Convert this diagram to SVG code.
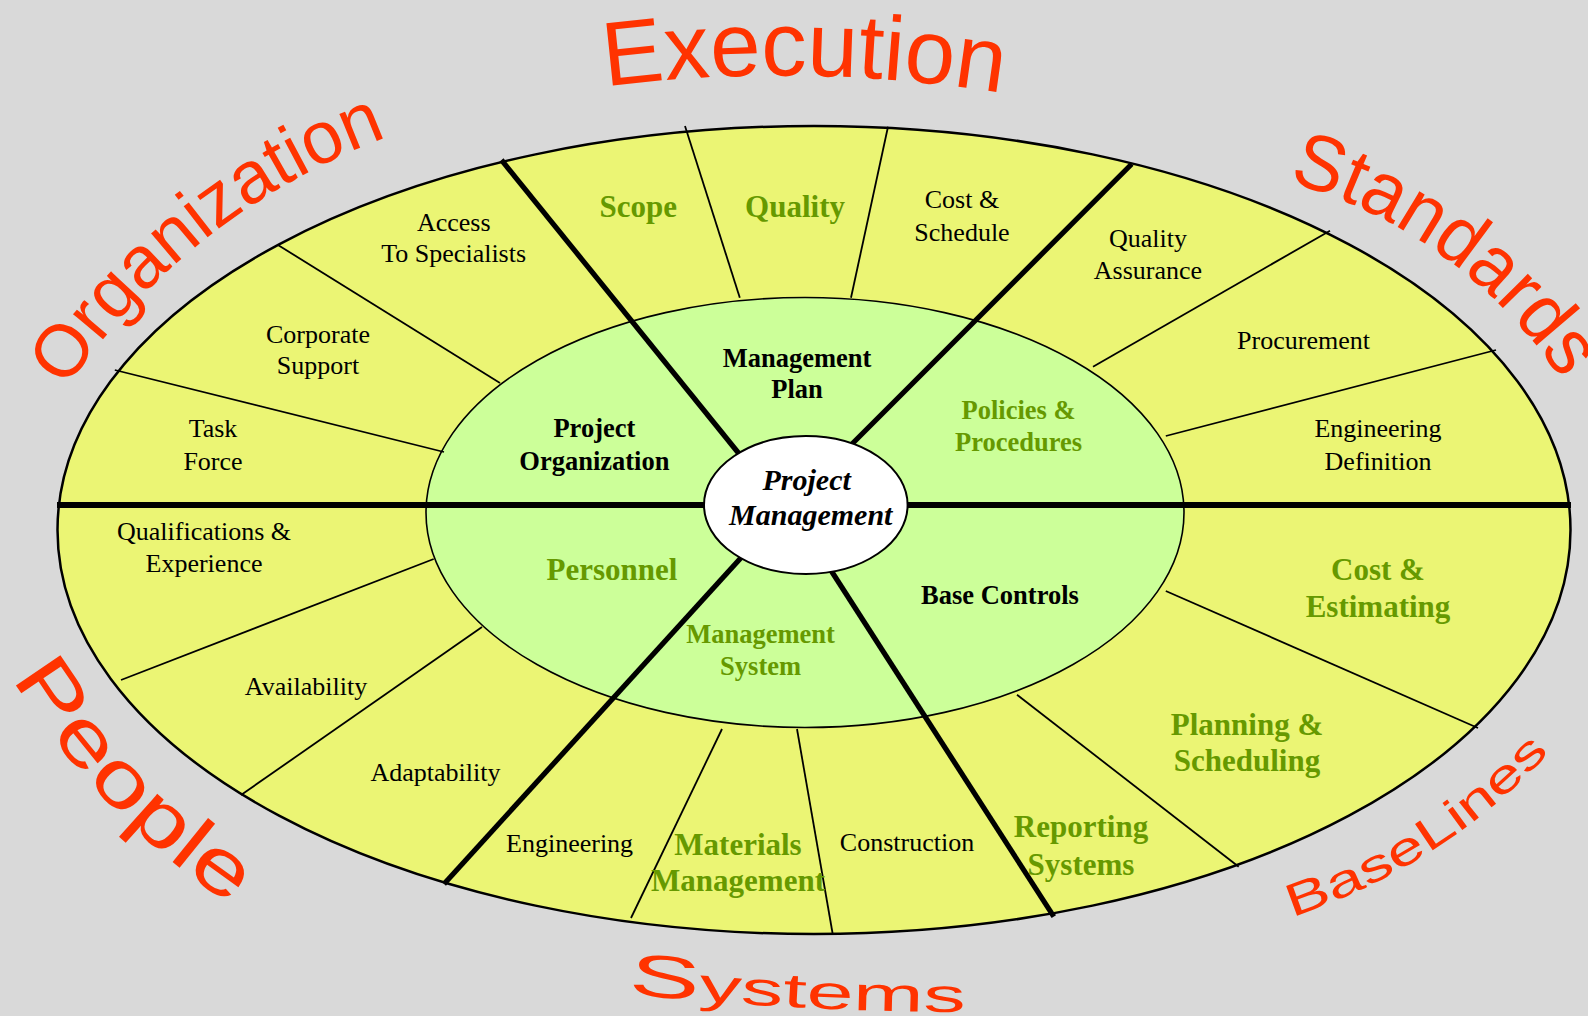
<svg xmlns="http://www.w3.org/2000/svg" width="1588" height="1016" viewBox="0 0 1588 1016">
<style>
.bg{fill:#d9d9d9}
.ring{fill:#ebf574;stroke:#000;stroke-width:2.5}
.inner{fill:#ccff99;stroke:#000;stroke-width:1.6}
.core{fill:#fff;stroke:#000;stroke-width:2}
.thin{stroke:#000;stroke-width:1.8;fill:none}
.thick{stroke:#000;stroke-width:5.2;fill:none}
.t{font-family:"Liberation Serif","Times New Roman",serif;font-size:26px;fill:#000;text-anchor:middle}
.g{font-family:"Liberation Serif","Times New Roman",serif;font-size:31px;font-weight:bold;fill:#669900;text-anchor:middle}
.gi{font-family:"Liberation Serif","Times New Roman",serif;font-size:26.5px;font-weight:bold;fill:#669900;text-anchor:middle}
.b{font-family:"Liberation Serif","Times New Roman",serif;font-size:26.5px;font-weight:bold;fill:#000;text-anchor:middle}
.c{font-family:"Liberation Serif","Times New Roman",serif;font-size:30px;font-weight:bold;font-style:italic;fill:#000;text-anchor:middle}
.red{font-family:"Liberation Sans",Arial,sans-serif;fill:#ff3300}
</style>
<defs>
<path id="pExec" d="M 605.6 86.5 A 1400 1400 0 0 1 1002.7 93.2"/>
<path id="pOrg" d="M 65.8 388.9 A 670 670 0 0 1 387.9 136.8"/>
<path id="pStd" d="M 1288 182 A 480 480 0 0 1 1560 378"/>
<path id="pPeo" d="M 12 678 A 728 728 0 0 0 231 905"/>
<path id="pSys" d="M 628 994 Q 800 1012 966 1012"/>
<path id="pBas" d="M 1292 917 A 611 611 0 0 0 1550 752"/>
</defs>
<rect class="bg" x="0" y="0" width="1588" height="1016"/>
<g id="outer-ring"><ellipse class="ring" cx="814" cy="530" rx="756.5" ry="404"/></g>
<g id="inner-ring"><ellipse class="inner" cx="805" cy="512.5" rx="379" ry="215"/></g>
<g id="connectors">
<line class="thin" x1="114.8" y1="370" x2="444" y2="452"/>
<line class="thin" x1="278" y1="245" x2="500" y2="383"/>
<line class="thin" x1="685" y1="126" x2="739.8" y2="297.7"/>
<line class="thin" x1="888" y1="126.7" x2="851" y2="297.7"/>
<line class="thin" x1="1330" y1="230.7" x2="1093" y2="366.7"/>
<line class="thin" x1="1496" y1="350" x2="1165.8" y2="436"/>
<line class="thin" x1="1165.8" y1="591" x2="1478" y2="728"/>
<line class="thin" x1="1017" y1="694.7" x2="1238.7" y2="866.8"/>
<line class="thin" x1="722" y1="729" x2="631" y2="918"/>
<line class="thin" x1="797" y1="729" x2="832.7" y2="934"/>
<line class="thin" x1="433.7" y1="559" x2="121" y2="680"/>
<line class="thin" x1="482" y1="627" x2="241" y2="795"/>
<line class="thick" style="stroke-width:6" x1="57" y1="505" x2="1571" y2="505"/>
<line class="thick" x1="501.5" y1="160" x2="755" y2="473.5"/>
<line class="thick" x1="1131.7" y1="164" x2="840" y2="456"/>
<line class="thick" x1="444" y1="884" x2="753.5" y2="544"/>
<line class="thick" x1="1053.8" y1="916.7" x2="823" y2="558"/>
</g>
<g id="core"><ellipse class="core" cx="805.8" cy="505" rx="101.8" ry="69"/>
<text class="c" x="806.7" y="490">Project</text><text class="c" x="810.8" y="525">Management</text></g>
<g id="n-access"><text class="t" x="453.7" y="231">Access</text><text class="t" x="453.7" y="262">To Specialists</text></g>
<g id="n-corporate"><text class="t" x="318" y="343">Corporate</text><text class="t" x="318" y="374">Support</text></g>
<g id="n-task"><text class="t" x="213" y="437">Task</text><text class="t" x="213" y="469.5">Force</text></g>
<g id="n-qual"><text class="t" x="204" y="539.5">Qualifications &amp;</text><text class="t" x="204" y="571.5">Experience</text></g>
<g id="n-avail"><text class="t" x="306" y="695">Availability</text></g>
<g id="n-adapt"><text class="t" x="435.5" y="781">Adaptability</text></g>
<g id="n-eng"><text class="t" x="569.6" y="852">Engineering</text></g>
<g id="n-constr"><text class="t" x="907" y="851">Construction</text></g>
<g id="n-costsched"><text class="t" x="962" y="208">Cost &amp;</text><text class="t" x="962" y="240.5">Schedule</text></g>
<g id="n-qa"><text class="t" x="1148" y="247">Quality</text><text class="t" x="1148" y="278.5">Assurance</text></g>
<g id="n-proc"><text class="t" x="1303.5" y="349">Procurement</text></g>
<g id="n-engdef"><text class="t" x="1378" y="436.5">Engineering</text><text class="t" x="1378" y="469.5">Definition</text></g>
<g id="n-scope"><text class="g" x="638.3" y="216.7">Scope</text></g>
<g id="n-quality"><text class="g" x="795" y="216.7">Quality</text></g>
<g id="n-costest"><text class="g" x="1378" y="580">Cost &amp;</text><text class="g" x="1378" y="617">Estimating</text></g>
<g id="n-plan"><text class="g" x="1247" y="735">Planning &amp;</text><text class="g" x="1247" y="771">Scheduling</text></g>
<g id="n-report"><text class="g" x="1081" y="837">Reporting</text><text class="g" x="1081" y="875">Systems</text></g>
<g id="n-mat"><text class="g" x="738" y="855">Materials</text><text class="g" x="738" y="891">Management</text></g>
<g id="n-personnel"><text class="g" x="612" y="579.6">Personnel</text></g>
<g id="n-mplan"><text class="b" x="797" y="366.6">Management</text><text class="b" x="797" y="398">Plan</text></g>
<g id="n-porg"><text class="b" x="594.4" y="437.3">Project</text><text class="b" x="594.4" y="469.5">Organization</text></g>
<g id="n-base"><text class="b" x="1000" y="603.5">Base Controls</text></g>
<g id="n-policies"><text class="gi" x="1018.6" y="419">Policies &amp;</text><text class="gi" x="1018.6" y="451">Procedures</text></g>
<g id="n-msys"><text class="gi" x="760.6" y="643">Management</text><text class="gi" x="760.6" y="674.5">System</text></g>
<g id="labels">
<text class="red" font-size="91"><textPath href="#pExec" textLength="398" lengthAdjust="spacingAndGlyphs">Execution</textPath></text>
<text class="red" font-size="74"><textPath href="#pOrg" textLength="415" lengthAdjust="spacingAndGlyphs">Organization</textPath></text>
<text class="red" font-size="79"><textPath href="#pStd" textLength="345" lengthAdjust="spacingAndGlyphs">Standards</textPath></text>
<text class="red" font-size="78"><textPath href="#pPeo" textLength="318" lengthAdjust="spacingAndGlyphs">People</textPath></text>
<text class="red" font-size="48"><textPath href="#pSys" textLength="338" lengthAdjust="spacingAndGlyphs"><tspan font-size="60">S</tspan>ystems</textPath></text>
<text class="red" font-size="46"><textPath href="#pBas" textLength="309" lengthAdjust="spacingAndGlyphs">BaseLines</textPath></text>
</g>
</svg>
